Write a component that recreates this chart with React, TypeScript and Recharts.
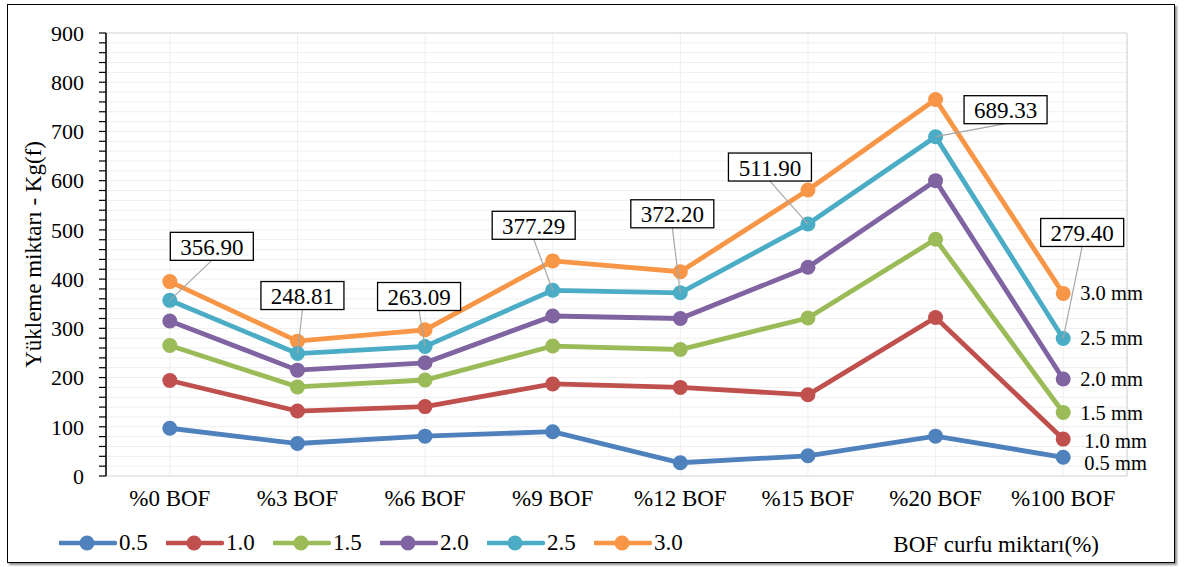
import React from "react"
import {
  LineChart,
  Line,
  XAxis,
  YAxis,
  CartesianGrid,
  Legend,
  LabelList
} from "recharts"

// x categories
const categories = ["%0 BOF", "%3 BOF", "%6 BOF", "%9 BOF", "%12 BOF", "%15 BOF", "%20 BOF", "%100 BOF"]

// load values per particle size (Kg(f))
const s05 = [97, 66, 81, 90, 27, 41, 81, 38]
const s10 = [194, 132, 141, 187, 180, 165, 322, 75]
const s15 = [265, 181, 195, 264, 257, 321, 481, 129]
const s20 = [315, 215, 230, 325, 320, 424, 600, 197]
const s25 = [356.9, 248.81, 263.09, 377.29, 372.2, 511.9, 689.33, 279.4]
const s30 = [395, 274, 297, 437, 415, 581, 765, 371]

const yMajorTicks = [0, 100, 200, 300, 400, 500, 600, 700, 800, 900]
const yMinorTicks = Array.from({ length: 46 }, (_, i) => i * 20)
const edgeTicks = [0, 1, 2, 3, 4, 5, 6, 7, 8]

const series = [
  { key: "s05", name: "0.5", end: "0.5 mm", color: "#4F81BD" },
  { key: "s10", name: "1.0", end: "1.0 mm", color: "#C0504D" },
  { key: "s15", name: "1.5", end: "1.5 mm", color: "#9BBB59" },
  { key: "s20", name: "2.0", end: "2.0 mm", color: "#8064A2" },
  { key: "s25", name: "2.5", end: "2.5 mm", color: "#4BACC6" },
  { key: "s30", name: "3.0", end: "3.0 mm", color: "#F79646" }
]

const data = categories.map((cat, i) => ({
  cat,
  s05: s05[i],
  s10: s10[i],
  s15: s15[i],
  s20: s20[i],
  s25: s25[i],
  s30: s30[i]
}))

const FONT = '"Liberation Serif", "Times New Roman", serif'

// callout box placement relative to each 2.5 point
const calloutOffsets = [
  [42, -54], [5, -58], [-6, -50], [-19, -65],
  [-8, -79], [-38, -57], [70, -27], [19, -106]
]
// end label nudges (dx, dy)
const endNudge: Record<string, number[]> = {
  s05: [4, 6], s10: [4, 2], s15: [0, 0], s20: [0, 0], s25: [0, 0], s30: [0, 0]
}

const CalloutLabel = (props: any) => {
  const { x, y, index, value } = props
  const off = calloutOffsets[index]
  const cx = x + off[0]
  const cy = y + off[1]
  const w = 83
  const h = 28
  let d
  if (cy + h / 2 < y - 4) {
    d = `M${x},${y}L${cx},${cy + h / 2}`
  } else {
    d = `M${x},${y}L${cx - w / 2 - 8},${cy}L${cx - w / 2},${cy}`
  }
  return (
    <g>
      <path d={d} stroke="#a6a6a6" strokeWidth={1.2} fill="none" />
      <rect x={cx - w / 2} y={cy - h / 2} width={w} height={h} fill="#fff" stroke="#000" strokeWidth={1.3} />
      <text x={cx} y={cy + 1} textAnchor="middle" dominantBaseline="central" fontSize={23} fontFamily={FONT} fill="#000">
        {Number(value).toFixed(2)}
      </text>
    </g>
  )
}

const makeEndLabel = (key: string, text: string) => (props: any) => {
  const { x, y, index } = props
  if (index !== categories.length - 1) return null
  const n = endNudge[key]
  return (
    <text x={x + 17 + n[0]} y={y + n[1]} dominantBaseline="central" fontSize={20.5} fontFamily={FONT} fill="#000">
      {text}
    </text>
  )
}

const YTitle = (props: any) => {
  const { viewBox } = props
  const x = 33
  const y = viewBox.y + viewBox.height / 2
  return (
    <text x={x} y={y} transform={`rotate(-90, ${x}, ${y})`} textAnchor="middle" dominantBaseline="central" fontSize={23} fontFamily={FONT} fill="#000">
      Yükleme miktarı - Kg(f)
    </text>
  )
}

const XTitle = (props: any) => {
  const { viewBox } = props
  const x = viewBox.x + viewBox.width - 28
  return (
    <text x={x} y={544} textAnchor="end" dominantBaseline="central" fontSize={23} fontFamily={FONT} fill="#000">
      BOF curfu miktarı(%)
    </text>
  )
}

const LegendContent = () => (
  <div style={{ display: "flex", fontFamily: FONT, fontSize: 23, color: "#000" }}>
    {series.map((s) => (
      <div key={s.key} style={{ display: "flex", alignItems: "center", width: 107 }}>
        <svg width={58} height={20}>
          <line x1={1} y1={10} x2={56} y2={10} stroke={s.color} strokeWidth={4.5} strokeLinecap="round" />
          <circle cx={28} cy={10} r={7.5} fill={s.color} />
        </svg>
        <span style={{ marginLeft: 2, lineHeight: "20px" }}>{s.name}</span>
      </div>
    ))}
  </div>
)

// draw 2.5 last so its callouts sit above the other lines
const drawOrder = ["s05", "s10", "s15", "s20", "s30", "s25"]

export default function App() {
  return (
    <div style={{ position: "absolute", left: 0, top: 0, width: 1186, height: 567, background: "#fff" }}>
      <div
        style={{
          position: "absolute",
          left: 7,
          top: 4,
          width: 1166,
          height: 557,
          border: "1.5px solid #000",
          boxShadow: "2px 2px 2px rgba(0,0,0,0.45)"
        }}
      />
      <div style={{ position: "absolute", left: 0, top: 0 }}>
        <LineChart
          width={1186}
          height={567}
          data={data}
          margin={{ top: 33, right: 59, left: 10, bottom: 61 }}
        >
          <CartesianGrid vertical={false} stroke="#efefef" strokeWidth={1} />
          <CartesianGrid horizontal={false} stroke="#efefef" strokeWidth={1} />
          <CartesianGrid vertical={false} yAxisId="major" stroke="#d9d9d9" strokeWidth={1.2} />
          <CartesianGrid horizontal={false} xAxisId="edges" stroke="#d9d9d9" strokeWidth={1.2} />

          <XAxis
            xAxisId="edges"
            type="number"
            domain={[0, 8]}
            ticks={edgeTicks}
            allowDataOverflow
            height={0}
            tick={false}
            tickSize={7}
            axisLine={{ stroke: "#000", strokeWidth: 1.5 }}
            tickLine={{ stroke: "#000", strokeWidth: 1.3 }}
          />
          <XAxis
            dataKey="cat"
            scale="band"
            height={30}
            axisLine={false}
            tickLine={false}
            tickSize={0}
            tickMargin={14}
            interval={0}
            tick={{ fill: "#000", fontSize: 23, fontFamily: FONT }}
            label={{ content: XTitle }}
          />
          <YAxis
            domain={[0, 900]}
            ticks={yMinorTicks}
            interval={0}
            width={96}
            tickSize={7}
            tickMargin={15}
            tickFormatter={(v: number) => (v % 100 === 0 ? String(v) : "")}
            axisLine={{ stroke: "#000", strokeWidth: 1.5 }}
            tickLine={{ stroke: "#000", strokeWidth: 1.2 }}
            tick={{ fill: "#000", fontSize: 22, fontFamily: FONT }}
            label={{ content: YTitle }}
          />
          <YAxis yAxisId="major" hide domain={[0, 900]} ticks={yMajorTicks} interval={0} />

          <Legend
            verticalAlign="middle"
            align="center"
            layout="horizontal"
            content={LegendContent}
            wrapperStyle={{ left: 59, top: 533, width: 700 }}
          />

          {drawOrder.map((k) => {
            const s = series.find((q) => q.key === k)!
            return (
              <Line
                key={s.key}
                type="linear"
                dataKey={s.key}
                name={s.name}
                stroke={s.color}
                strokeWidth={4.8}
                dot={{ r: 7.5, fill: s.color, stroke: "none" }}
                activeDot={false}
                isAnimationActive={false}
              >
                {s.key === "s25" && <LabelList dataKey={s.key} content={CalloutLabel} />}
                <LabelList dataKey={s.key} content={makeEndLabel(s.key, s.end)} />
              </Line>
            )
          })}
        </LineChart>
      </div>
    </div>
  )
}
